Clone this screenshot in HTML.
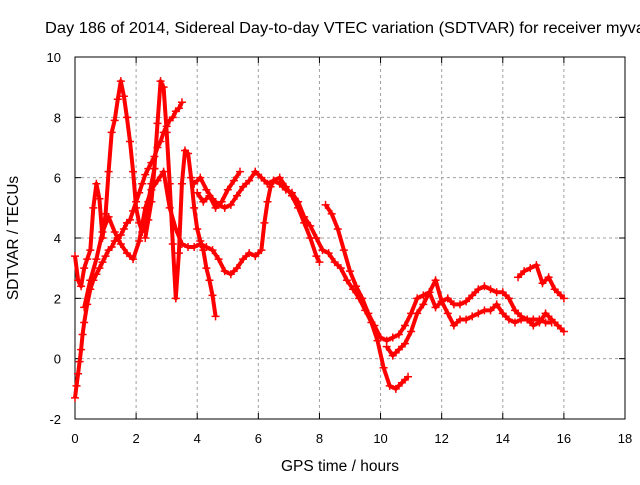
<!DOCTYPE html>
<html><head><meta charset="utf-8"><style>
body{margin:0;background:#fff;}
svg text{font-family:"Liberation Sans",sans-serif;font-size:13px;fill:#000;}
svg text.big{font-size:15.5px;}
</style></head><body>
<svg id="chart" width="640" height="480" viewBox="0 0 640 480" xmlns="http://www.w3.org/2000/svg">
<rect width="640" height="480" fill="#fff"/>
<text class="big" x="45" y="33" textLength="600" lengthAdjust="spacingAndGlyphs">Day 186 of 2014, Sidereal Day-to-day VTEC variation (SDTVAR) for receiver myva</text>
<g id="grid"></g>
<g id="axes"></g>
<g id="series"></g>
<text class="big" x="340" y="471" text-anchor="middle">GPS time / hours</text>
<text class="big" transform="translate(18,238) rotate(-90)" text-anchor="middle">SDTVAR / TECUs</text>
</svg>
<script>
const xTicks=[0,2,4,6,8,10,12,14,16,18];
const yTicks=[-2,0,2,4,6,8,10];
const t1x=[0,0.05,0.1,0.15,0.2,0.25,0.3,0.4,0.5,0.6,0.7,0.8,0.9,1.0,1.1,1.2,1.3,1.4,1.5,1.6,1.7,1.8,1.9,2.0,2.1,2.2,2.3,2.4,2.5,2.6,2.7,2.8,2.9,3.0,3.1,3.2,3.3,3.4,3.5];
const t1y=[-1.3,-0.9,-0.5,-0.1,0.3,0.8,1.2,1.8,2.3,2.6,2.8,3.0,3.2,3.4,3.6,3.7,3.9,4.0,4.1,4.3,4.5,4.6,4.9,5.2,5.5,5.8,6.1,6.3,6.5,6.7,7.0,7.2,7.5,7.7,7.9,8.0,8.2,8.3,8.5];
const t2x=[0,0.1,0.2,0.3,0.4,0.5,0.6,0.7,0.8,0.9,1.0,1.1,1.2,1.3,1.4,1.5,1.6,1.7,1.8,1.9,2.0,2.1,2.2,2.3,2.4,2.5,2.6];
const t2y=[3.4,2.6,2.4,3.0,3.3,3.6,5.0,5.8,5.3,4.0,4.8,6.2,7.5,7.9,8.6,9.2,8.7,8.0,7.2,6.2,5.0,4.5,4.2,4.5,5.2,5.8,6.3];
const t3x=[2.3,2.4,2.5,2.6,2.7,2.8,2.9,3.0,3.1,3.2,3.3,3.4,3.5,3.6,3.7,3.8,3.9,4.0,4.1,4.2,4.3,4.4,4.5,4.6];
const t3y=[4.0,4.6,5.2,6.3,7.8,9.2,9.0,7.5,5.8,3.8,2.0,3.5,5.8,6.9,6.8,6.0,5.0,4.3,3.9,3.6,3.0,2.6,2.1,1.4];
const t4x=[0.3,0.5,0.7,0.9,1.1,1.3,1.5,1.7,1.9,2.1,2.3,2.5,2.7,2.9,3.1,3.3,3.5,3.7,3.9,4.1,4.3,4.5,4.7,4.9,5.1,5.3,5.5,5.7,5.9,6.1,6.2,6.3,6.4,6.5,6.7,6.9,7.1,7.3,7.5,7.7,7.9,8.1,8.3,8.5,8.7,8.9,9.1,9.3,9.5,9.7,9.9,10.1,10.3,10.5,10.7,10.9];
const t4y=[1.7,2.6,3.3,4.2,4.7,4.2,3.8,3.5,3.3,3.9,5.0,5.6,5.9,6.2,5.0,4.3,3.8,3.7,3.7,3.8,3.7,3.6,3.3,2.9,2.8,3.0,3.3,3.5,3.4,3.6,4.5,5.2,5.7,5.9,5.8,5.6,5.5,5.2,4.7,4.4,4.0,3.6,3.5,3.2,3.0,2.6,2.3,2.0,1.6,1.2,0.6,-0.3,-0.9,-1.0,-0.8,-0.6];
const t5x=[3.9,4.1,4.3,4.5,4.7,4.9,5.1,5.3,5.5,5.7,5.9,6.1,6.3,6.5,6.7,6.9,7.1,7.3,7.5,7.7,7.9,8.0];
const t5y=[5.8,6.0,5.6,5.3,5.1,5.0,5.1,5.4,5.7,5.9,6.2,6.0,5.8,5.9,6.0,5.7,5.4,5.0,4.5,4.0,3.4,3.2];
const t6x=[4.0,4.2,4.4,4.6,4.8,5.0,5.2,5.4];
const t6y=[5.5,5.2,5.4,5.0,5.2,5.6,5.9,6.2];
const t7x=[8.2,8.4,8.6,8.8,9.0,9.2,9.4,9.6,9.8,10.0,10.2,10.4,10.6,10.8,11.0,11.2,11.4,11.6,11.8,12.0,12.2,12.4,12.6,12.8,13.0,13.2,13.4,13.6,13.8,14.0,14.2,14.4,14.6,14.8,15.0,15.2,15.4,15.6];
const t7y=[5.1,4.8,4.3,3.6,2.9,2.4,2.0,1.5,1.1,0.7,0.6,0.7,0.8,1.1,1.5,2.0,2.1,2.2,1.7,1.9,2.0,1.8,1.8,1.9,2.1,2.3,2.4,2.3,2.2,2.2,2.0,1.6,1.4,1.3,1.3,1.3,1.2,1.2];
const t8x=[10.2,10.4,10.6,10.8,11.0,11.2,11.4,11.6,11.8,12.0,12.2,12.4,12.6,12.8,13.0,13.2,13.4,13.6,13.8,14.0,14.2,14.4,14.6,14.8,15.0,15.2,15.4,15.6,15.8,16.0];
const t8y=[0.4,0.1,0.3,0.5,0.9,1.5,1.8,2.2,2.6,1.9,1.5,1.1,1.3,1.3,1.4,1.5,1.6,1.6,1.8,1.5,1.3,1.2,1.3,1.3,1.1,1.2,1.5,1.3,1.1,0.9];
const t9x=[14.5,14.7,14.9,15.1,15.3,15.5,15.7,15.9,16.0];
const t9y=[2.7,2.9,3.0,3.1,2.5,2.7,2.3,2.1,2.0];
const seriesX=[t1x,t2x,t3x,t4x,t5x,t6x,t7x,t8x,t9x];
const seriesY=[t1y,t2y,t3y,t4y,t5y,t6y,t7y,t8y,t9y];

const NS='http://www.w3.org/2000/svg';
const L=75,R=625,T=57,B=419;
const sx=v=>L+(v-0)/18*(R-L);
const sy=v=>B-(v+2)/12*(B-T);
function mk(tag,attrs,parent){const e=document.createElementNS(NS,tag);for(const k in attrs)e.setAttribute(k,attrs[k]);parent.appendChild(e);return e;}
const grid=document.getElementById('grid'),axes=document.getElementById('axes'),ser=document.getElementById('series');
xTicks.forEach(v=>{
  const x=sx(v);
  if(v>0&&v<18){const g=mk('line',{x1:x,y1:T,x2:x,y2:B,stroke:'#a0a0a0','stroke-dasharray':'3,3','stroke-width':1},grid);
  
  }
  const tk=mk('line',{x1:x,y1:B,x2:x,y2:B-6,stroke:'#000'},axes);
  
  
  const tk2=mk('line',{x1:x,y1:T,x2:x,y2:T+6,stroke:'#000'},axes);
  
  
  const t=mk('text',{x:x,y:B+24,'text-anchor':'middle'},axes);t.textContent=v;
  
  
});
yTicks.forEach(v=>{
  const y=sy(v);
  if(v>-2&&v<10){const g=mk('line',{x1:L,y1:y,x2:R,y2:y,stroke:'#a0a0a0','stroke-dasharray':'3,3','stroke-width':1},grid);
  
  }
  const tk=mk('line',{x1:L,y1:y,x2:L+6,y2:y,stroke:'#000'},axes);
  
  
  const tk2=mk('line',{x1:R,y1:y,x2:R-6,y2:y,stroke:'#000'},axes);
  
  
  const t=mk('text',{x:L-14,y:y+5,'text-anchor':'end'},axes);t.textContent=v;
  
  
});
const frame=mk('rect',{x:L,y:T,width:R-L,height:B-T,fill:'none',stroke:'#000','stroke-width':1},axes);


seriesX.forEach((xs,i)=>{
  const ys=seriesY[i];
  const pts=xs.map((x,j)=>sx(x).toFixed(1)+','+sy(ys[j]).toFixed(1)).join(' ');
  const pl=mk('polyline',{points:pts,fill:'none',stroke:'#f00','stroke-width':4,'stroke-linejoin':'round'},ser);
  
  
  xs.forEach((x,j)=>{
    const cx=sx(x),cy=sy(ys[j]);
    const p=mk('path',{d:`M${cx-4},${cy}h8M${cx},${cy-4}v8`,stroke:'#f00','stroke-width':1.5},ser);
    
    
  });
});
</script>
</body></html>
